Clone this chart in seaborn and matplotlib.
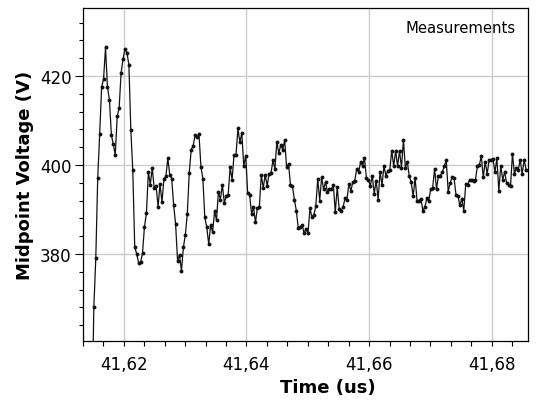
"""
Midpoint voltage ring-down after switching, measured samples.
"""

import numpy as np
import matplotlib
matplotlib.use("Agg")
import matplotlib.pyplot as plt
from matplotlib.ticker import MultipleLocator, FuncFormatter
import pandas as pd
import seaborn as sns

# sampling of the scope trace (us)
t_start = 41.6148
t_step = 0.0003175

# first ring (big overshoot)
v_ring1 = [343.0, 368.0, 379.0, 397.1, 407.0, 417.5, 419.3, 426.4, 417.5, 414.7,
           406.8, 404.6, 402.3, 410.9, 412.8, 420.7, 423.8, 426.1, 425.2, 422.5,
           407.9, 398.8, 381.6, 380.0, 378.0, 378.1, 380.2, 386.1, 389.1, 398.4,
           395.6, 399.3, 394.8, 395.2, 390.6, 395.7, 391.6, 396.9, 397.4, 401.5,
           397.8, 396.9, 390.9, 386.7, 378.5, 379.8, 376.2, 381.5, 384.3, 389.0,
           398.2, 403.4, 404.3, 406.7, 406.2, 406.9, 399.6, 396.9, 388.2, 386.0,
           382.2, 386.5, 384.9, 389.6, 387.6, 394.0, 392.2, 395.5, 391.5, 393.0,
           393.3]
# damped part
v_ring2 = [399.5, 396.7, 402.2, 402.2, 408.2, 405.1, 407.2, 399.8, 402.1, 393.7,
           393.3, 389.0, 390.5, 387.1, 390.3, 390.5, 397.8, 394.8, 397.8, 395.3,
           398.0, 398.2, 401.0, 399.1, 405.2, 402.6, 404.5, 403.4, 405.5, 399.5,
           400.2, 395.5, 395.2, 392.2, 389.7, 385.8]
v_ring3 = [386.0, 386.5, 384.7, 385.6, 384.7, 390.3, 388.2, 388.8, 390.7, 396.9,
           392.0, 397.2, 394.6, 396.1, 393.9, 394.6, 394.5, 395.5, 389.4, 395.0,
           390.1, 389.7, 390.5, 392.5, 392.2, 395.7, 394.2, 396.1, 396.5, 399.1,
           398.5, 400.6, 399.8, 401.5, 397.0, 396.7]
v_ring4 = [395.3, 397.6, 393.5, 396.5, 392.2, 398.4, 395.5, 399.7, 397.6, 398.7,
           398.9, 403.2, 399.7, 403.2, 399.7, 403.2, 399.3, 405.7, 399.3, 400.7,
           397.5, 396.1, 393.0, 397.0, 392.0, 392.0, 392.4, 389.7, 390.5, 392.5,
           391.8, 394.6, 394.8, 399.1, 394.6, 397.6]
v_tail = [397.6, 398.4, 399.8, 401.0, 394.0, 396.0, 397.2, 397.0, 393.3, 393.0,
          390.9, 392.4, 389.7, 395.7, 395.5, 396.7, 396.7, 396.5, 396.7, 399.7,
          400.0, 402.0, 397.2, 400.7, 398.0, 401.0, 401.2, 401.3, 398.4, 401.5,
          394.2, 399.8, 396.7, 398.4, 396.0, 395.5, 395.2, 402.5, 398.0, 399.3,
          398.9, 401.2, 397.9, 401.2, 398.9]

x_ticks = [41.62, 41.64, 41.66, 41.68]
y_ticks = [380, 400, 420]

voltage = np.concatenate([v_ring1, v_ring2, v_ring3, v_ring4, v_tail])
time = t_start + t_step * np.arange(len(voltage))
df = pd.DataFrame({"time": time, "voltage": voltage})

sns.set_style("ticks")
plt.rcParams["font.family"] = ["DejaVu Sans"]
plt.rcParams["text.color"] = "black"
plt.rcParams["axes.labelcolor"] = "black"
plt.rcParams["xtick.color"] = "black"
plt.rcParams["ytick.color"] = "black"

fig = plt.figure(figsize=(5.38, 4.02), dpi=100)
ax = fig.add_axes([0.1537, 0.15, 0.8271, 0.8269])

sns.lineplot(data=df, x="time", y="voltage", ax=ax, color="#111111",
             linewidth=0.9, marker="o", markersize=2.8, markeredgewidth=0,
             markerfacecolor="#111111", zorder=3)

ax.set_xlim(41.6133, 41.68586)
ax.set_ylim(360.5, 435.2)

ax.xaxis.set_major_locator(MultipleLocator(0.02))
ax.xaxis.set_minor_locator(MultipleLocator(0.02 / 6))
ax.yaxis.set_major_locator(MultipleLocator(20))
ax.yaxis.set_minor_locator(MultipleLocator(4))
ax.set_xticks(x_ticks)
ax.set_yticks(y_ticks)
ax.xaxis.set_major_formatter(FuncFormatter(lambda v, p: f"{v:.2f}".replace(".", ",")))
ax.yaxis.set_major_formatter(FuncFormatter(lambda v, p: f"{v:.0f}"))

ax.grid(True, which="major", color="#cccccc", linewidth=1.0, zorder=0)
ax.tick_params(axis="x", which="both", direction="out", length=3.6, width=0.8,
               pad=7.0, labelsize=12, color="black", labelcolor="black")
ax.tick_params(axis="y", which="major", direction="out", length=5.5, width=0.8,
               pad=2.4, labelsize=12, color="black", labelcolor="black")
ax.tick_params(axis="y", which="minor", direction="out", length=3.2, width=0.8,
               color="black")
for s in ax.spines.values():
    s.set_visible(True)
    s.set_color("black")
    s.set_linewidth(0.9)

ax.set_xlabel("Time (us)", fontsize=13, fontweight="bold", color="black")
ax.set_ylabel("Midpoint Voltage (V)", fontsize=13, fontweight="bold", color="black")
ax.xaxis.set_label_coords(0.55, -0.113)
ax.yaxis.set_label_coords(-0.11, 0.5)

ax.text(0.974, 0.928, "Measurements", transform=ax.transAxes, ha="right",
        va="baseline", fontsize=10.7, color="black")

fig.savefig("out.png", dpi=100)
